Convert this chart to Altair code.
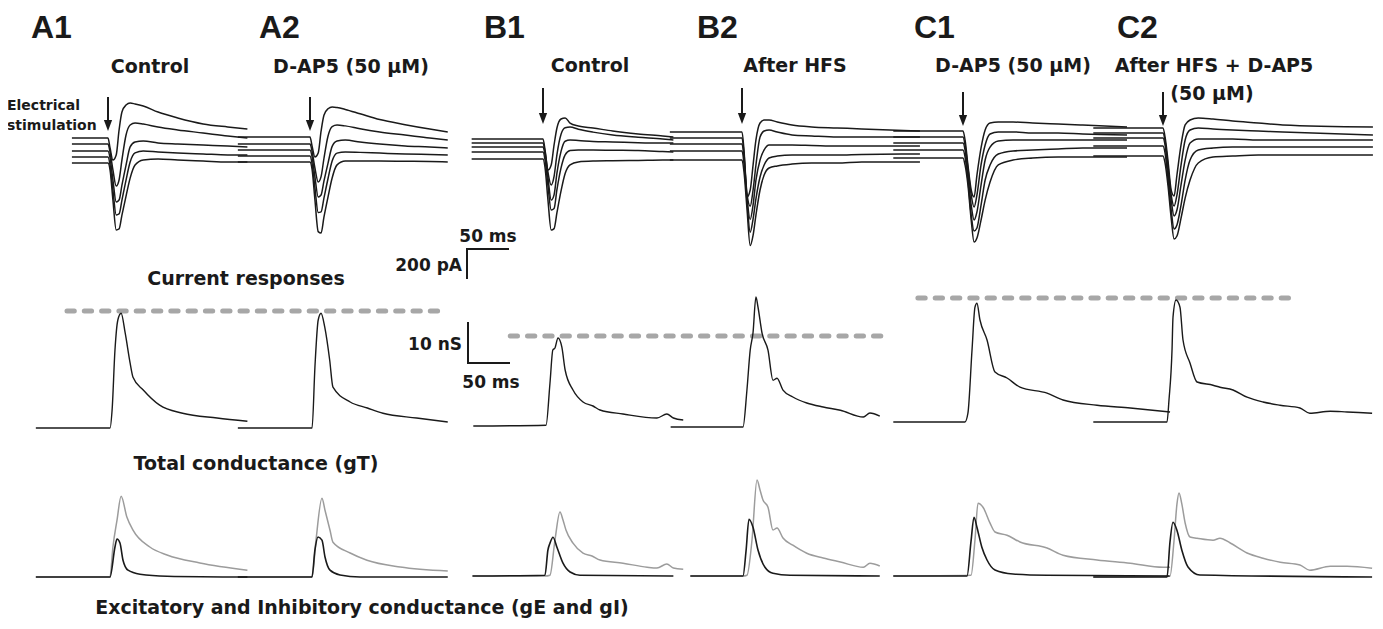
import altair as alt
import pandas as pd

# ---------------- calibration (scale bars of the figure) ----------------
BAR_MS, BAR_PA, BAR_NS = 50, 200, 10
PX_PER_MS = 41 / BAR_MS
PX_PER_PA = 29 / BAR_PA
PX_PER_NS = 40 / BAR_NS

panels = ["A1", "A2", "B1", "B2", "C1", "C2"]

# ---------------- current responses (pA vs ms from stimulus) ----------------
cur_grid_ms = [0, 2.5, 6, 10, 13.5, 17, 22, 27, 33, 43, 61, 85, 116, 146]
cur_start_ms = [-44, -88, -87, -88, -85, -85]
cur_end_ms = [170, 168, 159, 217, 200, 256]

cur_A1 = [
    [0, -69, -152, -117, 55, 179, 228, 241, 235, 221, 179, 138, 97, 76, 62],
    [0, -55, -179, -290, -248, -110, 62, 131, 145, 138, 117, 97, 76, 55, 41],
    [0, -48, -200, -352, -338, -235, -97, 28, 62, 69, 55, 48, 41, 35, 28],
    [0, -55, -228, -400, -393, -297, -159, -35, 28, 41, 35, 28, 21, 14, 14],
    [0, -48, -255, -462, -455, -359, -228, -104, -14, 21, 28, 21, 14, 7, 7],
]
cur_A2 = [
    [0, -62, -138, -110, 40, 150, 195, 207, 203, 190, 160, 120, 85, 55, 35],
    [0, -50, -165, -262, -225, -100, 55, 120, 131, 125, 105, 83, 62, 41, 28],
    [0, -45, -185, -324, -310, -215, -90, 25, 62, 69, 55, 41, 28, 21, 14],
    [0, -52, -220, -390, -385, -290, -155, -35, 20, 28, 25, 20, 14, 10, 7],
    [0, -50, -260, -480, -490, -380, -240, -110, -20, 7, 7, 7, 5, 3, 0],
]
cur_B1 = [
    [0, -76, -214, -179, -41, 76, 138, 145, 110, 90, 76, 55, 35, 21, 14],
    [0, -60, -200, -290, -230, -80, 60, 105, 110, 95, 75, 55, 40, 28, 21],
    [0, -55, -210, -366, -330, -180, -30, 40, 48, 45, 38, 35, 30, 28, 28],
    [0, -55, -230, -400, -390, -260, -110, -20, 10, 14, 14, 12, 10, 3, 0],
    [0, -60, -280, -490, -480, -370, -220, -100, -40, -20, -14, -12, -10, -7, -7],
]
cur_B2 = [
    [0, -130, -449, -400, -228, -55, 62, 83, 83, 69, 48, 35, 28, 21, 7],
    [0, -110, -380, -470, -360, -186, 7, 48, 55, 41, 21, 14, 7, 7, 7],
    [0, -100, -360, -520, -420, -250, -110, -41, -7, -7, -7, -10, -14, -14, -14],
    [0, -90, -340, -560, -470, -330, -179, -97, -48, -35, -28, -28, -28, -24, -21],
    [0, -85, -330, -590, -520, -380, -207, -104, -55, -41, -28, -21, -21, -14, -14],
]
cur_C1 = [
    [0, -62, -235, -407, -455, -304, -117, 7, 55, 62, 62, 55, 48, 41, 28],
    [0, -55, -214, -400, -483, -400, -193, -55, 21, 35, 35, 28, 28, 21, 14],
    [0, -48, -221, -428, -531, -476, -290, -117, -28, 14, 21, 21, 21, 21, 21],
    [0, -48, -207, -448, -559, -538, -380, -207, -104, -28, -7, 0, 7, 14, 14],
    [0, -48, -186, -428, -580, -552, -428, -290, -166, -48, -14, 0, 7, 7, 7],
]
cur_C2 = [
    [0, -62, -221, -428, -469, -324, -117, 21, 55, 69, 62, 48, 35, 21, 7],
    [0, -55, -221, -428, -504, -428, -221, -48, 21, 35, 28, 21, 14, 7, -14],
    [0, -48, -221, -428, -538, -497, -324, -152, -35, -7, -7, -7, -14, -14, -14],
    [0, -48, -221, -442, -573, -545, -407, -235, -97, -28, -14, -7, -7, -7, -7],
    [0, -48, -200, -428, -573, -552, -428, -290, -166, -48, -7, 0, 7, 7, 7],
]
cur_all = [cur_A1, cur_A2, cur_B1, cur_B2, cur_C1, cur_C2]

# ---------------- total conductance gT (nS vs ms) ----------------
gT_t = [
    [-88, 2.5, 5, 8.5, 12, 16, 21, 27, 30.5, 43, 63, 91, 133, 170],
    [-88, 2.5, 6, 10, 13.5, 18, 24, 28, 49, 70, 89, 130, 168],
    [-85, 3.7, 8.5, 12, 14.6, 18.3, 23, 27, 36.6, 48.8, 61, 69.5, 97.6, 139, 151, 159, 171],
    [-87, 1.2, 6, 10, 13.4, 17, 19.5, 24.4, 31.7, 37.8, 42.7, 50, 62, 79, 99, 120, 148, 156, 168],
    [-85, 2.4, 6, 11, 14.6, 17, 20.7, 29.3, 39, 53.7, 69.5, 102.5, 122, 163.5, 204, 252.5],
    [-85, 4.9, 7.3, 11, 12.2, 15.9, 20.7, 24.4, 33, 41.5, 61, 69.5, 85.4, 102.5, 122, 142.7, 167, 179, 204, 224.5, 255],
]
gT_g = [
    [0, 0, 4.5, 19.5, 27, 28.7, 23.7, 16.2, 12.7, 9.5, 5.7, 3.7, 2.5, 1.7],
    [0, 0, 15.2, 27, 28.7, 25.2, 17, 10.2, 6.5, 5, 3.7, 2.5, 1.5],
    [0, 0.2, 10.7, 19, 19.5, 22, 19.7, 14, 9, 6, 5, 4, 3, 2, 3, 2, 1.5],
    [0, 0, 9.2, 19.2, 23.5, 32.5, 30, 23.5, 19.2, 11.7, 12.2, 9.2, 7.5, 6, 5, 4.2, 2.5, 3.5, 2.7],
    [0, 0, 2.2, 18, 28.7, 29.7, 25.5, 20.5, 12.5, 11, 8.7, 7.2, 5.5, 4.2, 3.5, 2.5],
    [0, 0, 5.5, 18, 26.2, 30.5, 28.7, 20.5, 14.7, 10, 9.2, 8.7, 8, 6.2, 5, 4.2, 3.5, 2.2, 2.7, 2.5, 2.2],
]

# ---------------- excitatory gE (nS vs ms) ----------------
gE_t = [
    [-88, 2.4, 8.5, 11, 14.6, 18.3, 24.4, 39, 72, 170],
    [-88, 2.4, 6, 9.8, 14.6, 18.3, 24.4, 36.6, 61, 168],
    [-86, 2.4, 6, 8.5, 12.2, 17, 24.4, 33, 45, 159],
    [-63, 1.2, 4.9, 8.5, 13.4, 19.5, 28, 37.8, 58.6, 168],
    [-85, 4.9, 9.8, 13.4, 17, 23, 29.3, 39, 61, 102.5, 252],
    [-85, 4.9, 8.5, 12.2, 17, 23, 30.5, 45, 255],
]
gE_g = [
    [0, 0, 7.5, 9.5, 8.5, 4.2, 1.7, 0.7, 0.2, 0],
    [0, 0, 6.7, 10, 9.2, 5, 1.7, 0.5, 0, 0],
    [0, 0.2, 6.5, 8.2, 9.7, 7.2, 3.2, 1, 0.2, 0],
    [0, 0, 6.2, 14.2, 12.2, 6.5, 2.2, 0.7, 0.2, 0],
    [0, 0, 8.7, 14.7, 12.2, 7.2, 4, 1.5, 0.5, 0.2, 0],
    [0, 0, 8.7, 13.7, 11.7, 6.7, 2.5, 0.5, 0],
]

# ---------------- inhibitory gI (nS vs ms) ----------------
gI_t = [
    [-88, 2.4, 6, 11, 16, 23, 30.5, 51, 72, 112, 170],
    [-88, 2.4, 7.3, 14.6, 18.3, 24.4, 28, 49, 69.5, 110, 168],
    [-86, 2.4, 8.5, 14.6, 20.7, 24.4, 28, 36.6, 48.8, 59.8, 69.5, 97.6, 127, 139, 151, 159, 171],
    [-63, 1.2, 6.1, 12.2, 18.3, 22, 25.6, 31.7, 37.8, 42.7, 50, 62, 79, 99, 120, 148, 156, 168],
    [-85, 9.8, 14.6, 18.3, 24.4, 33, 39, 53.7, 69.5, 102.5, 122, 163.5, 204, 244, 252.5],
    [-85, 8.5, 13.4, 17, 19.5, 23, 27, 33, 41.5, 61, 69.5, 82, 102.5, 122, 143, 167, 179, 204, 224.5, 255],
]
gI_g = [
    [0, 0, 7.5, 14.2, 20.2, 15, 11.7, 7.5, 5.5, 3.5, 1.7],
    [0, 0, 9.2, 19.7, 16.7, 11.7, 8.7, 6, 4.2, 2.5, 1.5],
    [0, 0, 0.2, 9, 16, 14, 11.5, 8.2, 5.7, 5, 4, 3.2, 2.2, 2, 3, 2, 1.7],
    [0, 0, 0.2, 9, 24, 21.5, 19, 17.2, 11.5, 12, 9.5, 7.7, 5.7, 4.5, 3.5, 2.2, 3.2, 2.5],
    [0, 0.2, 9, 18.2, 17.2, 13.2, 11, 10.2, 8.5, 7, 5.2, 4, 3.2, 2.2, 2.2],
    [0, 0.2, 9, 18.2, 21, 18.2, 13.5, 10, 9.7, 9.2, 9.7, 8.5, 6, 4.7, 3.7, 3, 1.7, 2.7, 2.7, 2.2],
]

# peak reference levels (nS above baseline) for each pair, and their time extents
ref_level_nS = [29.25, 22.5, 31.0]
ref_start_ms = [-50, -40, -55]   # relative to stimulus of first panel of pair
ref_end_ms = [165, 177, 161]     # relative to stimulus of second panel of pair

# ---------------- layout (figure placement, pixels) ----------------
STIM_X = [108, 310, 543, 742, 963, 1163]
CUR_BASE_Y = [
    [138, 144, 151, 157, 163],
    [137, 144, 150, 156, 162],
    [139, 143, 147, 152, 159],
    [132, 138, 144, 151, 160],
    [131, 137, 143, 150, 158],
    [128, 133, 138, 146, 156],
]
GT_BASE_Y = [428, 428, 426, 427, 422, 422]
GEI_BASE_Y = [577, 577, 576, 576, 576, 577]
ARROW_TOP = [97, 97, 88, 88, 92, 92]
ARROW_TIP = [131, 131, 124, 124, 126, 126]

INK = "#1a1a1a"
GRAY = "#9c9c9c"

rows_black, rows_gray = [], []


def add(rows, sid, ts, vals, x0, y0, k, w):
    for i, (t, v) in enumerate(zip(ts, vals)):
        rows.append(dict(id=sid, i=i, X=x0 + t * PX_PER_MS, Y=y0 - v * k, w=w))


for p, name in enumerate(panels):
    ts = [cur_start_ms[p]] + cur_grid_ms + [cur_end_ms[p]]
    for j, tr in enumerate(cur_all[p]):
        vals = [0] + tr
        add(rows_black, f"cur_{name}_{j}", ts, vals, STIM_X[p], CUR_BASE_Y[p][j], PX_PER_PA, 1.5)
    add(rows_black, f"gT_{name}", gT_t[p], gT_g[p], STIM_X[p], GT_BASE_Y[p], PX_PER_NS, 1.4)
    add(rows_gray, f"gI_{name}", gI_t[p], gI_g[p], STIM_X[p], GEI_BASE_Y[p], PX_PER_NS, 1.5)
    add(rows_black, f"gE_{name}", gE_t[p], gE_g[p], STIM_X[p], GEI_BASE_Y[p], PX_PER_NS, 1.6)

df_black = pd.DataFrame(rows_black)
df_gray = pd.DataFrame(rows_gray)

XS = alt.Scale(domain=[8, 1375], nice=False, zero=False)
YS = alt.Scale(domain=[8, 621], nice=False, zero=False, reverse=True)


def xy(xf="X", yf="Y"):
    return dict(x=alt.X(f"{xf}:Q", scale=XS, axis=None), y=alt.Y(f"{yf}:Q", scale=YS, axis=None))


def line_layer(df, color):
    return alt.Chart(df).mark_line(interpolate="monotone", color=color, strokeJoin="round").encode(
        detail="id:N", order="i:Q",
        strokeWidth=alt.StrokeWidth("w:Q", scale=None), **xy())


# dashed peak reference lines
dash_rows = []
for k in range(3):
    a, b = 2 * k, 2 * k + 1
    dash_rows.append(dict(
        X=STIM_X[a] + ref_start_ms[k] * PX_PER_MS,
        X2=STIM_X[b] + ref_end_ms[k] * PX_PER_MS,
        Y=GT_BASE_Y[a] - ref_level_nS[k] * PX_PER_NS))
dashes = alt.Chart(pd.DataFrame(dash_rows)).mark_rule(
    color="#a7a7a7", strokeWidth=5, strokeDash=[7.3, 10], strokeCap="round"
).encode(x2="X2:Q", **xy())

# scale bars
sb = []
c1x, c1y = 467, 249
sb.append(dict(X=c1x, X2=c1x + BAR_MS * PX_PER_MS, Y=c1y, Y2=c1y))
sb.append(dict(X=c1x, X2=c1x, Y=c1y, Y2=c1y + BAR_PA * PX_PER_PA))
c2x, c2y = 468, 363
sb.append(dict(X=c2x, X2=c2x, Y=c2y, Y2=c2y - BAR_NS * PX_PER_NS))
sb.append(dict(X=c2x, X2=c2x + BAR_MS * PX_PER_MS, Y=c2y, Y2=c2y))
bars = alt.Chart(pd.DataFrame(sb)).mark_rule(color=INK, strokeWidth=2, strokeCap="square").encode(
    x2="X2:Q", y2="Y2:Q", **xy())

# stimulation arrows
arr = pd.DataFrame(dict(X=STIM_X, Y=ARROW_TOP, Y2=[t - 8 for t in ARROW_TIP],
                        H=[t - 5.5 for t in ARROW_TIP]))
arrow_shaft = alt.Chart(arr).mark_rule(color=INK, strokeWidth=2).encode(y2="Y2:Q", **xy())
arrow_head = alt.Chart(arr).mark_point(
    shape="M-0.75,-1L0.75,-1L0,1Z", size=121, filled=True, opacity=1, color=INK, strokeWidth=0
).encode(**xy("X", "H"))

# texts
texts = [
    # txt, X, Y, size, align, font
    ("A1", 31, 38, 32, "left", "Liberation Sans"),
    ("A2", 259, 38, 32, "left", "Liberation Sans"),
    ("B1", 484, 38, 32, "left", "Liberation Sans"),
    ("B2", 697, 38, 32, "left", "Liberation Sans"),
    ("C1", 914, 38, 32, "left", "Liberation Sans"),
    ("C2", 1117, 38, 32, "left", "Liberation Sans"),
    ("Control", 150, 73, 19, "center", "DejaVu Sans"),
    ("D-AP5 (50 μM)", 351, 73, 19, "center", "DejaVu Sans"),
    ("Control", 590, 72, 19, "center", "DejaVu Sans"),
    ("After HFS", 795, 72, 19, "center", "DejaVu Sans"),
    ("D-AP5 (50 μM)", 1013, 72, 19, "center", "DejaVu Sans"),
    ("After HFS + D-AP5", 1214, 72, 19, "center", "DejaVu Sans"),
    ("(50 μM)", 1212, 100, 19, "center", "DejaVu Sans"),
    ("Electrical", 7, 110, 14, "left", "DejaVu Sans"),
    ("stimulation", 7, 130, 14, "left", "DejaVu Sans"),
    ("Current responses", 246, 285, 19, "center", "DejaVu Sans"),
    ("Total conductance (gT)", 256, 470, 19, "center", "DejaVu Sans"),
    ("Excitatory and Inhibitory conductance (gE and gI)", 362, 614, 19, "center", "DejaVu Sans"),
    ("50 ms", 488, 242, 17, "center", "DejaVu Sans"),
    ("200 pA", 462, 271, 17, "right", "DejaVu Sans"),
    ("10 nS", 462, 350, 17, "right", "DejaVu Sans"),
    ("50 ms", 491, 388, 17, "center", "DejaVu Sans"),
]
tdf = pd.DataFrame(texts, columns=["txt", "X", "Y", "fs", "align", "font"])
text_layers = []
for (al, fnt), sub in tdf.groupby(["align", "font"]):
    text_layers.append(
        alt.Chart(sub).mark_text(align=al, baseline="alphabetic", font=fnt, fontWeight="bold", color=INK)
        .encode(text="txt:N", size=alt.Size("fs:Q", scale=None), **xy()))

chart = alt.layer(
    dashes,
    line_layer(df_gray, GRAY),
    line_layer(df_black, INK),
    bars, arrow_shaft, arrow_head,
    *text_layers,
).properties(width=1367, height=613, padding=0, autosize=alt.AutoSizeParams(type="none")
).configure_view(stroke=None)

chart.save("out.html", embed_options={"renderer": "svg", "actions": False})
